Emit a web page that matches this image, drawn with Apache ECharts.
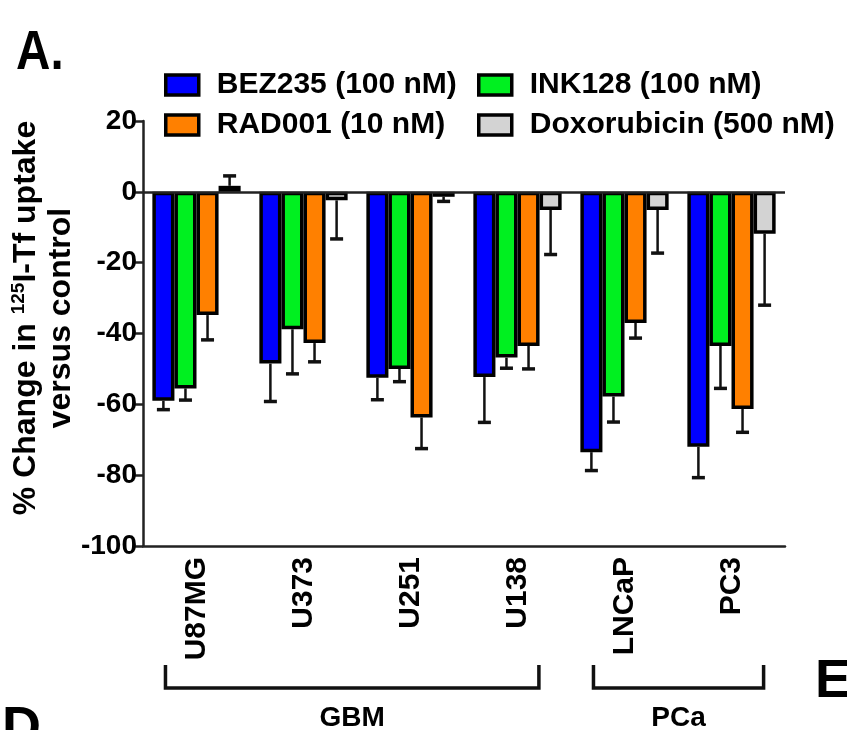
<!DOCTYPE html>
<html><head><meta charset="utf-8">
<script src="https://cdn.jsdelivr.net/npm/echarts@6/dist/echarts.min.js"></script>
<style>html,body{margin:0;padding:0;background:#fff}#c{width:847px;height:730px}</style>
</head><body><div id="c"></div>
<script>
// ---- data ----
const categories = ['U87MG', 'U373', 'U251', 'U138', 'LNCaP', 'PC3'];
const seriesNames = ['BEZ235 (100 nM)', 'INK128 (100 nM)', 'RAD001 (10 nM)', 'Doxorubicin (500 nM)'];
const bez235 = [-59, -48.5, -52.5, -52.3, -73.5, -72];
const bez235Err = [2.5, 10.7, 6.2, 12.8, 5.2, 8.7];
const ink128 = [-55.5, -38.8, -50, -46.8, -57.8, -43.5];
const ink128Err = [3.3, 12.6, 3.6, 3, 7.2, 12];
const rad001 = [-34.8, -42.7, -63.7, -43.5, -37, -61.3];
const rad001Err = [7, 5.3, 8.8, 6.5, 4.3, 6.6];
const doxorubicin = [1.7, -2.4, -1.4, -5.1, -5.1, -11.8];
const doxorubicinErr = [2.8, 10.9, 1.3, 12.6, 12.2, 20.2];
const yMin = -100, yMax = 20, yStep = 20;
const groupNames = ['GBM', 'PCa'];
const groupFrom = [0, 4];
const groupTo = [3, 5];

// ---- chart ----
const FONT = "'Liberation Sans', Arial, sans-serif";
const colors = ['#0000ff', '#00f020', '#ff8000', '#d3d3d3'];
const values = [bez235, ink128, rad001, doxorubicin];
const errors = [bez235Err, ink128Err, rad001Err, doxorubicinErr];
const CAT_GAP = 0.175;

const chart = echarts.init(document.getElementById('c'), null, {renderer: 'canvas'});

const barSeries = values.map((vals, k) => ({
  type: 'bar',
  name: seriesNames[k],
  data: vals,
  barGap: '0%',
  barCategoryGap: (CAT_GAP * 100) + '%',
  itemStyle: {color: colors[k], borderColor: '#000', borderWidth: 3.5},
  emphasis: {disabled: true},
  markLine: k === 0 ? {
    silent: true, symbol: 'none', label: {show: false},
    lineStyle: {color: '#222', width: 2.5, type: 'solid'},
    data: [{yAxis: 0}]
  } : undefined
}));

const errSeries = values.map((vals, k) => ({
  type: 'custom',
  name: seriesNames[k] + ' SD',
  z: 10, silent: true,
  data: vals.map((v, i) => [i, v, errors[k][i]]),
  renderItem(params, api) {
    const ci = api.value(0), v = api.value(1), e = api.value(2);
    const band = api.size([1, 0])[0];
    const bw = band * (1 - CAT_GAP) / 4;
    const p0 = api.coord([ci, v]);
    const p1 = api.coord([ci, v + (v >= 0 ? 1 : -1) * e]);
    const x = p0[0] + (k - 1.5) * bw;
    const cap = 6.5;
    return {type: 'group', children: [
      {type: 'line', shape: {x1: x, y1: p0[1], x2: x, y2: p1[1]}, style: {stroke: '#111', lineWidth: 2.5}},
      {type: 'line', shape: {x1: x - cap, y1: p1[1], x2: x + cap, y2: p1[1]}, style: {stroke: '#111', lineWidth: 3.5}}
    ]};
  }
}));

const legendCommon = {
  orient: 'vertical', itemGap: 10, itemWidth: 33, itemHeight: 20, padding: 0,
  icon: 'rect',
  textStyle: {fontSize: 30, fontWeight: 'bold', fontFamily: FONT, color: '#000', lineHeight: 30, padding: [0, 0, 0, 13]},
  itemStyle: {borderColor: '#000', borderWidth: 3.5},
  selectedMode: false
};

chart.setOption({
  animation: false,
  backgroundColor: '#fff',
  grid: {left: 143, right: 62, top: 121, bottom: 184, containLabel: false},
  legend: [
    Object.assign({left: 164, top: 70, data: [seriesNames[0], seriesNames[2]]}, legendCommon),
    Object.assign({left: 477, top: 70, data: [seriesNames[1], seriesNames[3]]}, legendCommon)
  ],
  xAxis: {
    type: 'category', data: categories,
    axisLine: {onZero: false, lineStyle: {color: '#222', width: 2.5}},
    axisTick: {alignWithLabel: true, length: 8, lineStyle: {color: '#222', width: 2.5}},
    axisLabel: {rotate: 90, fontSize: 30, fontWeight: 'bold', fontFamily: FONT, color: '#000', margin: 11}
  },
  yAxis: {
    type: 'value', min: yMin, max: yMax, interval: yStep,
    axisLine: {show: true, lineStyle: {color: '#222', width: 2.5}},
    axisTick: {show: true, length: 8, lineStyle: {color: '#222', width: 2.5}},
    axisLabel: {fontSize: 28, fontWeight: 'bold', fontFamily: FONT, color: '#000', margin: 6},
    splitLine: {show: false}
  },
  series: barSeries.concat(errSeries)
});

// ---- annotations ----
const graphics = [
  {type: 'text', x: 16, y: 26, scaleX: 0.85, style: {text: 'A.', fontSize: 56, fontWeight: 'bold', fontFamily: FONT, fill: '#000'}},
  {type: 'text', x: 815, y: 655, style: {text: 'E', fontSize: 54, fontWeight: 'bold', fontFamily: FONT, fill: '#000'}},
  {type: 'text', x: 2, y: 702, style: {text: 'D', fontSize: 54, fontWeight: 'bold', fontFamily: FONT, fill: '#000'}},
  {type: 'text', x: 26, y: 318, rotation: Math.PI / 2,
    style: {text: '% Change in {sup|125}I-Tf uptake', align: 'center', verticalAlign: 'middle',
      fontSize: 32, fontWeight: 'bold', fontFamily: FONT, fill: '#000', lineHeight: 34,
      rich: {sup: {fontSize: 19, fontWeight: 'bold', fontFamily: FONT, fill: '#000', verticalAlign: 'top', lineHeight: 34}}}},
  {type: 'text', x: 61, y: 318, rotation: Math.PI / 2,
    style: {text: 'versus control', align: 'center', verticalAlign: 'middle',
      fontSize: 32, fontWeight: 'bold', fontFamily: FONT, fill: '#000'}}
];
const bandPx = chart.convertToPixel({xAxisIndex: 0}, categories[1]) - chart.convertToPixel({xAxisIndex: 0}, categories[0]);
const rightPad = [0.2, 0.3];
groupNames.forEach((g, i) => {
  const xl = chart.convertToPixel({xAxisIndex: 0}, categories[groupFrom[i]]) - 0.29 * bandPx;
  const xr = chart.convertToPixel({xAxisIndex: 0}, categories[groupTo[i]]) + rightPad[i] * bandPx;
  const yTop = 665, yBot = 688;
  graphics.push({type: 'polyline', shape: {points: [[xl, yTop], [xl, yBot], [xr, yBot], [xr, yTop]]},
    style: {stroke: '#111', lineWidth: 3.5, fill: null}});
  graphics.push({type: 'text', x: (xl + xr) / 2, y: 704,
    style: {text: g, align: 'center', verticalAlign: 'top', fontSize: 28, fontWeight: 'bold', fontFamily: FONT, fill: '#000'}});
});
chart.setOption({graphic: graphics});
</script>
</body></html>
